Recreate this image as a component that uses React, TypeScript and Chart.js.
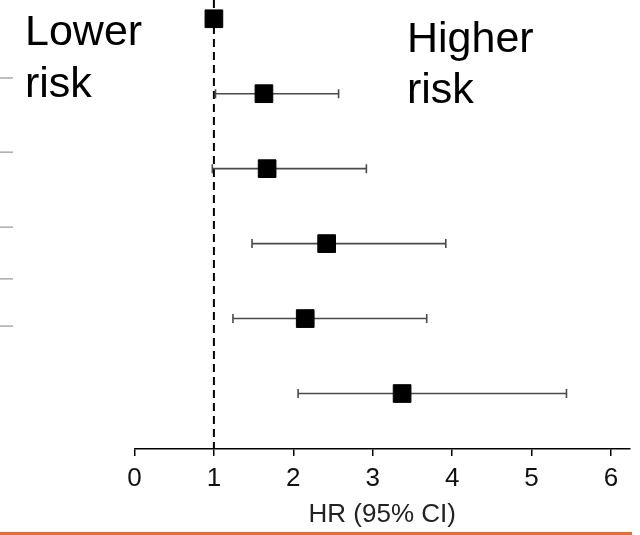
import React, { useEffect, useRef } from "react";
import { Chart, registerables } from "chart.js";

Chart.register(...registerables);

// ---- data ----
const rows = [0, 1, 2, 3, 4, 5];
const hr = [1.0, 1.63, 1.67, 2.42, 2.15, 3.37];
const ciLow: (number | null)[] = [null, 1.02, 0.98, 1.48, 1.24, 2.06];
const ciHigh: (number | null)[] = [null, 2.57, 2.92, 3.92, 3.68, 5.44];
const xTicks = [0, 1, 2, 3, 4, 5, 6];
const refValue = 1;
const leftMarks = [0.79, 1.78, 2.78, 3.47, 4.1];
const xTitle = "HR (95% CI)";
const lowerText = ["Lower", "risk"];
const higherText = ["Higher", "risk"];

const X_MIN = 0;
const X_MAX = 6.24;
const Y_MIN = -0.25;
const Y_MAX = 5.74;
const LEFT_MARK_X0 = -1.7;
const LEFT_MARK_X1 = -1.53;

const FONT = '"Liberation Sans", Arial, sans-serif';

export default function App() {
  const ref = useRef<HTMLCanvasElement | null>(null);

  useEffect(() => {
    if (!ref.current) return;

    const ciSets = rows
      .filter((i) => ciLow[i] != null && ciHigh[i] != null)
      .map((i) => ({
        type: "scatter" as const,
        data: [
          { x: ciLow[i] as number, y: i },
          { x: ciHigh[i] as number, y: i },
        ],
        showLine: true,
        borderColor: "#4a4a4a",
        borderWidth: 1.6,
        pointStyle: "line" as const,
        pointRotation: 90,
        pointRadius: 4.5,
        pointBorderColor: "#4a4a4a",
        pointBorderWidth: 1.6,
        pointBackgroundColor: "#4a4a4a",
        order: 2,
      }));

    const markSets = leftMarks.map((y) => ({
      data: [
        { x: LEFT_MARK_X0, y },
        { x: LEFT_MARK_X1, y },
      ],
      showLine: true,
      borderColor: "#aaaaaa",
      borderWidth: 1.5,
      pointRadius: 0,
      clip: false,
      order: 4,
    }));

    const textPlugin = {
      id: "riskText",
      afterDraw(chart: any) {
        const ctx = chart.ctx;
        ctx.save();
        ctx.fillStyle = "#000";
        ctx.font = `43px ${FONT}`;
        ctx.textBaseline = "alphabetic";
        ctx.textAlign = "left";
        ctx.fillText(lowerText[0], 25, 45);
        ctx.fillText(lowerText[1], 25, 97);
        ctx.fillText(higherText[0], 407, 52);
        ctx.fillText(higherText[1], 407, 103);
        // slide underline
        ctx.fillStyle = "#F0692F";
        ctx.fillRect(0, 532, 632, 3);
        ctx.restore();
      },
    };

    const chart = new Chart(ref.current, {
      type: "scatter",
      data: {
        datasets: [
          {
            data: rows.map((i) => ({ x: hr[i], y: i })),
            pointStyle: "rect",
            pointRadius: 12.5,
            pointBackgroundColor: "#000",
            pointBorderColor: "#000",
            pointBorderWidth: 1,
            order: 0,
          } as any,
          ...ciSets,
          {
            data: [
              { x: refValue, y: Y_MIN },
              { x: refValue, y: Y_MAX },
            ],
            showLine: true,
            borderColor: "#000",
            borderWidth: 2,
            borderDash: [8, 5],
            pointRadius: 0,
            order: 3,
          },
          ...markSets,
        ],
      },
      options: {
        animation: false,
        responsive: false,
        events: [],
        layout: { autoPadding: false, padding: { left: 134.5, right: 10, top: 0, bottom: 0 } },
        plugins: {
          legend: { display: false },
          tooltip: { enabled: false },
        },
        scales: {
          x: {
            type: "linear",
            min: X_MIN,
            max: X_MAX,
            afterBuildTicks: (s: any) => {
              s.ticks = xTicks.map((v) => ({ value: v }));
            },
            afterFit: (s: any) => {
              s.height = 86;
            },
            ticks: {
              font: { family: FONT, size: 26 },
              color: "#111",
              padding: 7,
              maxRotation: 0,
              autoSkip: false,
            },
            grid: {
              display: true,
              drawOnChartArea: false,
              drawTicks: true,
              tickLength: 7,
              color: "#000",
              lineWidth: 1.5,
            },
            border: { display: true, color: "#000", width: 1.5 },
            title: {
              display: true,
              text: xTitle,
              font: { family: FONT, size: 26, lineHeight: 1 },
              color: "#222",
              padding: { top: 0, bottom: 7 },
            },
          },
          y: {
            type: "linear",
            display: false,
            reverse: true,
            min: Y_MIN,
            max: Y_MAX,
          },
        },
      },
      plugins: [textPlugin],
    } as any);

    return () => chart.destroy();
  }, []);

  return (
    <div style={{ position: "fixed", left: 0, top: 0, width: 640, height: 535, background: "#fff" }}>
      <canvas ref={ref} width={640} height={535} style={{ display: "block" }} />
    </div>
  );
}
